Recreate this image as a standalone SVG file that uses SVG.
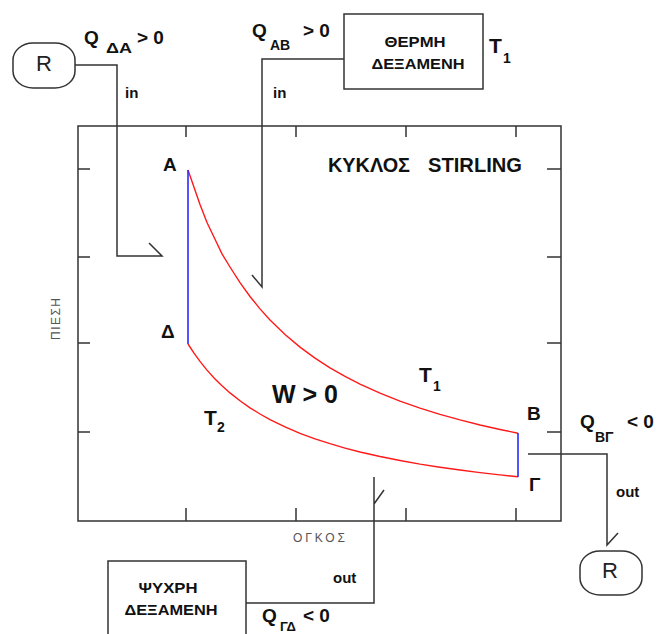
<svg xmlns="http://www.w3.org/2000/svg" width="658" height="634" viewBox="0 0 658 634">
<style>
.ln{fill:none;stroke:#333;stroke-width:1.5}
.bx{fill:#fff;stroke:#333;stroke-width:1.5}
.t{font-family:"Liberation Sans",Arial,sans-serif;font-weight:bold;fill:#111}
.r{font-family:"Liberation Sans",Arial,sans-serif;fill:#222}
.ax{font-family:"Liberation Sans",Arial,sans-serif;fill:#555;font-size:12px}
.iso{fill:none;stroke:#ff1a1a;stroke-width:1.4}
.isc{fill:none;stroke:#2a2aff;stroke-width:1.6}
</style>
<rect width="658" height="634" fill="#fff"/>
<g id="frame">
<path class="ln" d="M78,126 H561 V521 H78 Z"/>
<path class="ln" d="M186,126 V137 M296,126 V137 M406,126 V137 M516,126 V137 M186,521 V508 M296,521 V508 M406,521 V508 M516,521 V508 M78,169 H90 M78,257 H90 M78,343 H90 M78,432 H90 M561,169 H547 M561,257 H547 M561,343 H547 M561,432 H547"/>
<text class="ax" x="293" y="542" textLength="52" lengthAdjust="spacing">ΟΓΚΟΣ</text>
<text class="ax" transform="translate(60,340) rotate(-90)" x="0" y="0" textLength="42" lengthAdjust="spacing">ΠΙΕΣΗ</text>
<text class="t" x="328" y="172" font-size="21" textLength="82" lengthAdjust="spacingAndGlyphs">ΚΥΚΛΟΣ</text>
<text class="t" x="428" y="172" font-size="21" textLength="94" lengthAdjust="spacingAndGlyphs">STIRLING</text>
</g>
<g id="cycle">
<polyline class="iso" points="188,170 194,187.2 200,204.5 207,222.5 215,239.2 222,253.9 230,267 240,282.7 250,296.5 260,308.9 270,319.9 285,334.5 300,347.1 315,358.1 330,367.8 345,376.4 360,384.1 380,393.2 400,401.1 420,408.1 440,414.3 460,419.9 480,425 500,429.5 518,433.2"/>
<polyline class="iso" points="188,344 194,353.2 200,361.4 207,370.1 215,378.9 222,385.8 230,392.9 240,400.8 250,407.8 260,414 270,419.6 285,426.9 300,433.3 315,438.8 330,443.7 345,448.1 360,452 380,456.5 400,460.5 420,464.1 440,467.2 460,470 480,472.6 500,474.9 518,476.8"/>
<line class="isc" x1="188" y1="170" x2="188" y2="344"/>
<line class="isc" x1="518" y1="433" x2="518" y2="477"/>
<text class="t" x="163" y="171" font-size="19">A</text>
<text class="t" x="161" y="338" font-size="19">Δ</text>
<text class="t" x="527" y="420" font-size="19">B</text>
<text class="t" x="529" y="491" font-size="19">Γ</text>
<text class="t" x="272" y="403" font-size="25" textLength="66" lengthAdjust="spacing">W &gt; 0</text>
<text class="t" x="419" y="382" font-size="21">T</text>
<text class="t" x="433" y="391" font-size="14">1</text>
<text class="t" x="204" y="425" font-size="21">T</text>
<text class="t" x="217" y="432" font-size="14">2</text>
</g>
<g id="hot-reservoir">
<rect class="bx" x="344" y="14" width="139" height="75"/>
<text class="t" x="415" y="47" font-size="14" text-anchor="middle" textLength="61" lengthAdjust="spacingAndGlyphs">ΘΕΡΜΗ</text>
<text class="t" x="418" y="69" font-size="14" text-anchor="middle" textLength="93" lengthAdjust="spacingAndGlyphs">ΔΕΞΑΜΕΝΗ</text>
<text class="t" x="489" y="53" font-size="21">T</text>
<text class="t" x="503" y="63" font-size="14">1</text>
</g>
<g id="cold-reservoir">
<rect class="bx" x="108" y="561" width="138" height="100"/>
<text class="t" x="168" y="593" font-size="14" text-anchor="middle" textLength="59" lengthAdjust="spacingAndGlyphs">ΨΥΧΡΗ</text>
<text class="t" x="171" y="615" font-size="14" text-anchor="middle" textLength="93" lengthAdjust="spacingAndGlyphs">ΔΕΞΑΜΕΝΗ</text>
</g>
<g id="regenerator-in">
<rect class="bx" x="13" y="43" width="62" height="45" rx="20" ry="17"/>
<text class="r" x="44" y="71" font-size="22" text-anchor="middle">R</text>
</g>
<g id="regenerator-out">
<rect class="bx" x="580" y="551" width="62" height="44" rx="20" ry="17"/>
<text class="r" x="610" y="578" font-size="22" text-anchor="middle">R</text>
</g>
<g id="connectors">
<path class="ln" d="M75,65 H117 V256 H162 L149,243"/>
<path class="ln" d="M344,59 H262 V287 L252,275"/>
<path class="ln" d="M528,454 H607 V545 L618,533"/>
<path class="ln" d="M246,603 H374 V477 M374,504 L384,490"/>
<text class="t" x="84" y="44" font-size="19">Q</text>
<text class="t" x="106" y="53" font-size="14" textLength="26" lengthAdjust="spacingAndGlyphs">ΔA</text>
<text class="t" x="137" y="44" font-size="19">&gt; 0</text>
<text class="t" x="125" y="98" font-size="15">in</text>
<text class="t" x="252" y="37" font-size="19">Q</text>
<text class="t" x="270" y="50" font-size="14">AB</text>
<text class="t" x="303" y="37" font-size="19">&gt; 0</text>
<text class="t" x="273" y="98" font-size="15">in</text>
<text class="t" x="580" y="428" font-size="19">Q</text>
<text class="t" x="595" y="442" font-size="14">ΒΓ</text>
<text class="t" x="627" y="428" font-size="19">&lt; 0</text>
<text class="t" x="616" y="497" font-size="15">out</text>
<text class="t" x="262" y="622" font-size="19">Q</text>
<text class="t" x="280" y="631" font-size="13">ΓΔ</text>
<text class="t" x="303" y="622" font-size="19">&lt; 0</text>
<text class="t" x="333" y="583" font-size="15">out</text>
</g>
</svg>
